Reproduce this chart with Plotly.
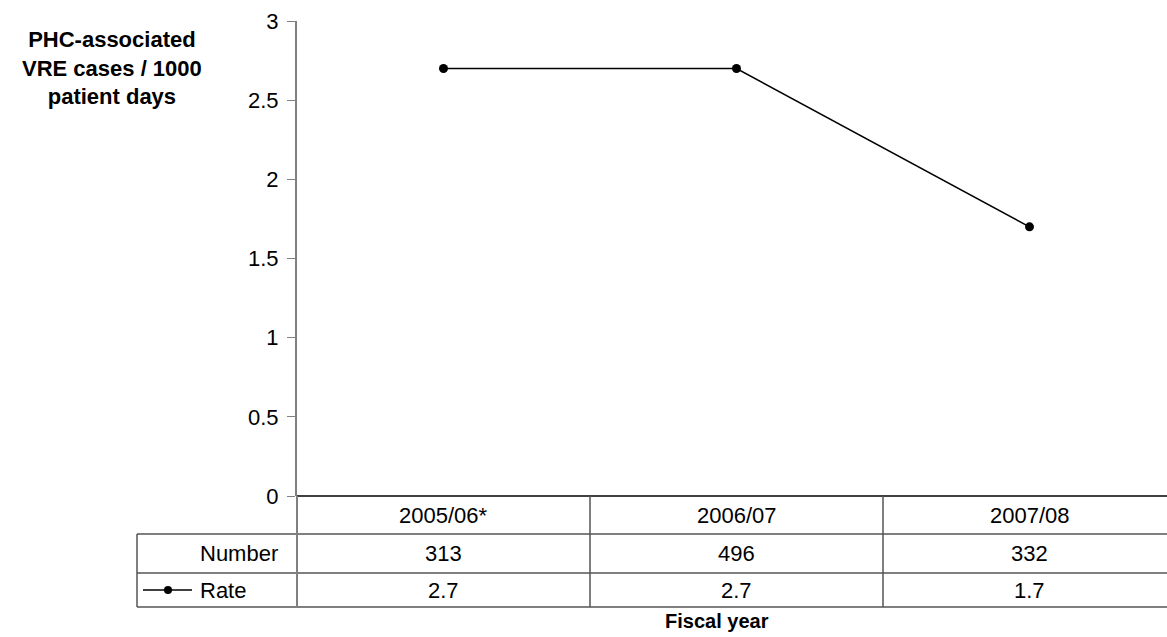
import plotly.graph_objects as go

# Data
years = ["2005/06*", "2006/07", "2007/08"]
numbers = [313, 496, 332]
rates = [2.7, 2.7, 1.7]
y_ticks = [0, 0.5, 1, 1.5, 2, 2.5, 3]
y_tick_labels = ["0", "0.5", "1", "1.5", "2", "2.5", "3"]

W, H = 1167, 637
L, T, B = 297, 21, 141
PW = W - L
PH = H - T - B
FONT = "Liberation Sans, Arial, sans-serif"
FS = 22


def px(x):
    return (x - L) / PW


def py(y):
    return (H - B - y) / PH


x_idx = list(range(len(years)))

fig = go.Figure()
fig.add_trace(go.Scatter(
    x=x_idx, y=rates, mode="lines+markers",
    line=dict(color="black", width=1.5),
    marker=dict(color="black", size=9),
    showlegend=False, cliponaxis=False,
))

# column width in data units is 1; the right edge falls slightly off-page
x_right = 2.5 - 9 / 293

fig.update_layout(
    width=W, height=H,
    margin=dict(l=L, r=0, t=T, b=B),
    paper_bgcolor="white", plot_bgcolor="white",
    font=dict(family=FONT, size=FS, color="black"),
    xaxis=dict(range=[-0.5, x_right], showticklabels=False, showgrid=False,
               zeroline=False, showline=False, ticks=""),
    yaxis=dict(range=[0, 3], tickvals=y_ticks, ticktext=y_tick_labels,
               showgrid=False, zeroline=False, showline=True,
               linecolor="#808080", linewidth=2, ticks="outside",
               ticklen=8, tickcolor="#808080", tickwidth=1,
               ticklabelstandoff=4,
               tickfont=dict(size=FS, family=FONT, color="black")),
)

shapes = []
# x axis baseline
shapes.append(dict(type="line", xref="paper", yref="paper", x0=0, x1=1,
                   y0=0, y1=0, line=dict(color="black", width=1.5)))
# data table grid
row_lines = [534, 573, 607]
for yy in row_lines:
    shapes.append(dict(type="line", xref="paper", yref="paper",
                       x0=px(137), x1=1, y0=py(yy), y1=py(yy),
                       line=dict(color="#555555", width=1.5)))
shapes.append(dict(type="line", xref="paper", yref="paper",
                   x0=px(137), x1=px(137), y0=py(534), y1=py(607),
                   line=dict(color="#555555", width=1.5)))
shapes.append(dict(type="line", xref="paper", yref="paper",
                   x0=0, x1=0, y0=0, y1=py(607),
                   line=dict(color="#808080", width=2)))
for i in range(len(years) - 1):
    shapes.append(dict(type="line", xref="x", yref="paper",
                       x0=i + 0.5, x1=i + 0.5, y0=0, y1=py(607),
                       line=dict(color="#555555", width=1.5)))
# legend key in the table
shapes.append(dict(type="line", xref="paper", yref="paper",
                   x0=px(143), x1=px(192), y0=py(590), y1=py(590),
                   line=dict(color="black", width=1.5)))
shapes.append(dict(type="circle", xref="paper", yref="paper",
                   x0=px(164), x1=px(172), y0=py(594), y1=py(586),
                   fillcolor="black", line=dict(color="black", width=0)))
fig.update_layout(shapes=shapes)

ann = []
for i, (yr, n, r) in enumerate(zip(years, numbers, rates)):
    ann.append(dict(x=i, y=py(515), xref="x", yref="paper", text=yr,
                    showarrow=False, xanchor="center", yanchor="middle"))
    ann.append(dict(x=i, y=py(553), xref="x", yref="paper", text=str(n),
                    showarrow=False, xanchor="center", yanchor="middle"))
    ann.append(dict(x=i, y=py(590), xref="x", yref="paper", text=f"{r:.1f}",
                    showarrow=False, xanchor="center", yanchor="middle"))
ann.append(dict(x=px(198), y=py(553), xref="paper", yref="paper",
                text="Number", showarrow=False, xanchor="left",
                yanchor="middle"))
ann.append(dict(x=px(198), y=py(590), xref="paper", yref="paper",
                text="Rate", showarrow=False, xanchor="left",
                yanchor="middle"))
ann.append(dict(x=px(717), y=py(621), xref="paper", yref="paper",
                text="<b>Fiscal year</b>", showarrow=False, xanchor="center",
                yanchor="middle", font=dict(size=FS - 2)))
ann.append(dict(x=px(112), y=py(68), xref="paper", yref="paper",
                text="<b>PHC-associated<br>VRE cases / 1000<br>patient days</b>",
                showarrow=False, align="center", xanchor="center",
                yanchor="middle", font=dict(size=FS)))
fig.update_layout(annotations=ann)

fig.write_html("out.html")
